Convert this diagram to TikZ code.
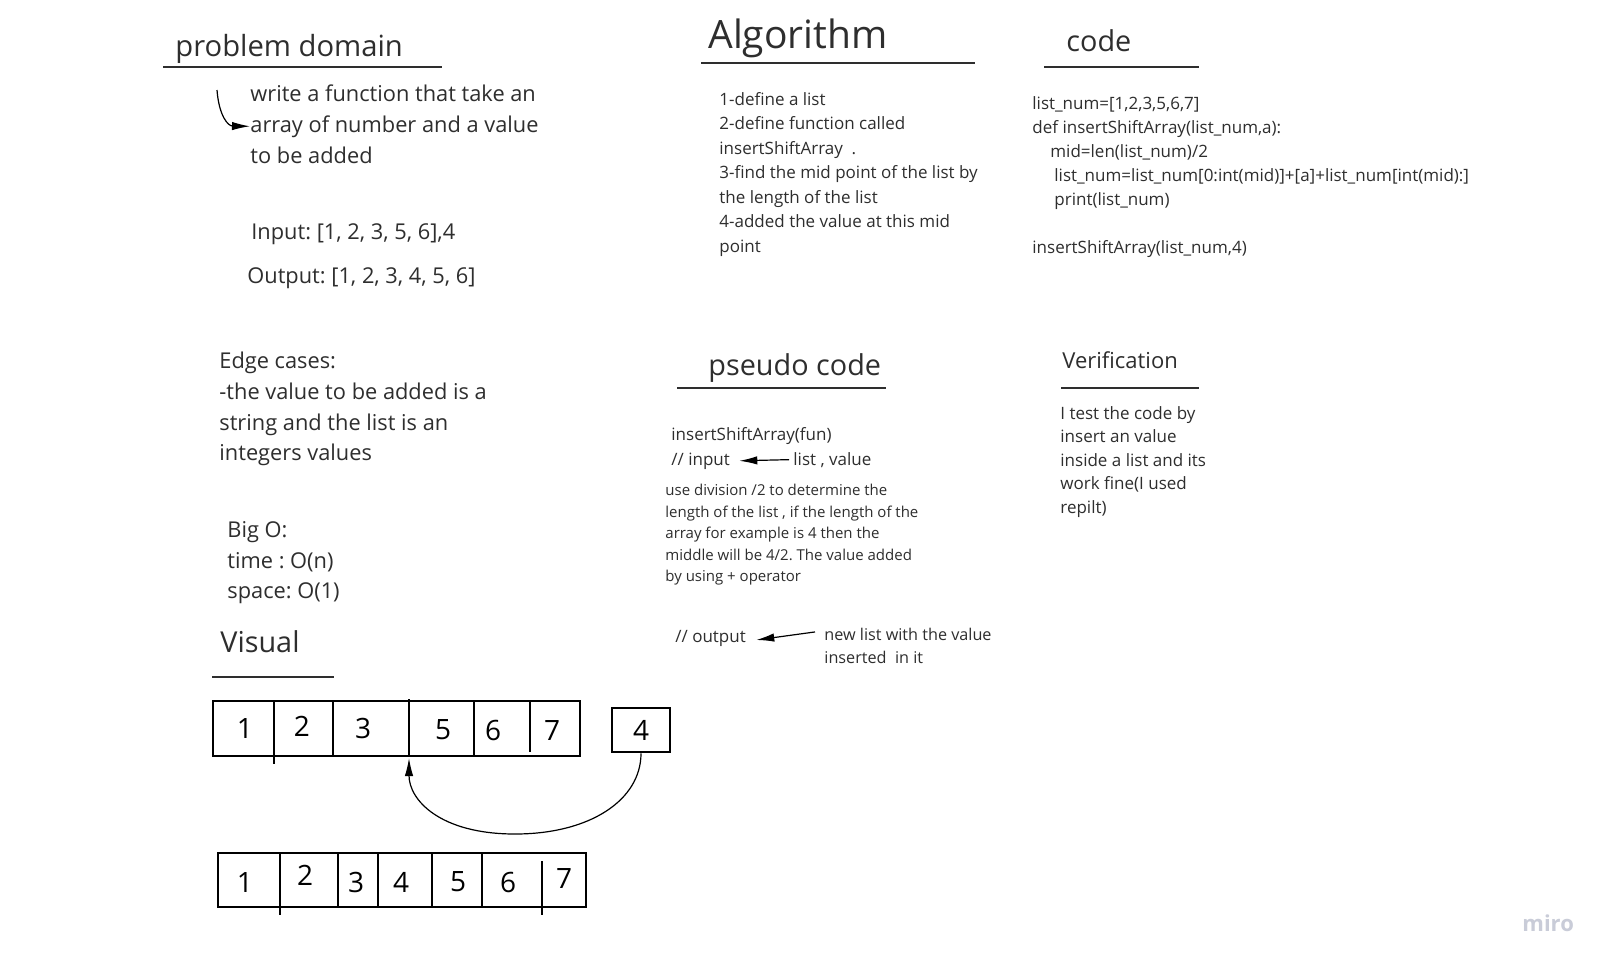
\documentclass[tikz,border=0pt]{standalone}
\usepackage{fontspec}
\setmainfont{Open Sans}
\usetikzlibrary{arrows.meta}
\definecolor{ink}{HTML}{2E2E2E}
\definecolor{mirocol}{HTML}{C9CCD8}
\frenchspacing
\tikzset{
  txt/.style={anchor=base west, inner sep=0pt, text=ink},
  body/.style={txt, font=\fontsize{10.9}{13}\selectfont},
  small/.style={txt, font=\fontsize{8.5}{10}\selectfont},
  tiny/.style={txt, font=\fontsize{7.5}{9}\selectfont},
  head/.style={txt, font=\fontsize{14.4}{16}\selectfont},
  rule/.style={line width=0.7pt, ink},
  cellbox/.style={line width=1.3pt, black},
  divider/.style={line width=0.6pt, black},
  digit/.style={anchor=center, inner sep=0pt, text=black, font=\fontsize{14}{16}\selectfont},
  arr/.style={line width=0.6pt, black, -{Latex[length=9pt,width=4.2pt]}},
}
\begin{document}
\begin{tikzpicture}[x=0.5pt,y=-0.5pt]
\useasboundingbox[fill=white] (0,0) rectangle (1610,970);

% ---------- problem domain ----------
\node[head, font=\fontsize{14.6}{16}\selectfont] (pdh) at (175,56) {problem domain};
\draw[rule] (163,67) -- (442,67);
\node[body] (pd1) at (250,101) {write a function that take an};
\node[body] (pd2) at (250,132) {array of number and a value};
\node[body] (pd3) at (250,163) {to be added};
\coordinate (pdc) at (217,90);
\draw[arr] (pdc) .. controls (219,116) and (228,126) .. (pd2.west);
\node[body] (inp) at (251,239) {Input: [1, 2, 3, 5, 6],4};
\node[body] (outp) at (247,283) {Output: [1, 2, 3, 4, 5, 6]};

\node[body] (e1) at (219,368) {Edge cases:};
\node[body] (e2) at (219,399) {-the value to be added is a};
\node[body] (e3) at (219,430) {string and the list is an};
\node[body] (e4) at (219,460) {integers values};

\node[body] (b1) at (227,537) {Big O:};
\node[body] (b2) at (227,568) {time : O(n)};
\node[body] (b3) at (227,598) {space: O(1)};

% ---------- Algorithm ----------
\node[txt, font=\fontsize{19.5}{22}\selectfont] (alh) at (708,48) {Algorithm};
\draw[rule] (701,63) -- (975,63);
\node[small] (a1) at (719,105) {1-define a list};
\node[small] (a2) at (719,129) {2-define function called};
\node[small] (a3) at (719,154) {insertShiftArray\ \ .};
\node[small] (a4) at (719,178) {3-find the mid point of the list by};
\node[small] (a5) at (719,203) {the length of the list};
\node[small] (a6) at (719,227) {4-added the value at this mid};
\node[small] (a7) at (719,252) {point};

% ---------- code ----------
\node[head] (cdh) at (1066,51) {code};
\draw[rule] (1044,67) -- (1199,67);
\node[small] (c1) at (1032,109) {list\_num=[1,2,3,5,6,7]};
\node[small] (c2) at (1032,133) {def insertShiftArray(list\_num,a):};
\node[small] (c3) at (1050,157) {mid=len(list\_num)/2};
\node[small] (c4) at (1054,181) {list\_num=list\_num[0:int(mid)]+[a]+list\_num[int(mid):]};
\node[small] (c5) at (1054,205) {print(list\_num)};
\node[small] (c7) at (1032,253) {insertShiftArray(list\_num,4)};

% ---------- pseudo code ----------
\node[head] (psh) at (708,375) {pseudo code};
\draw[rule] (677,388) -- (886,388);
\node[small] (p1) at (671,440) {insertShiftArray(fun)};
\node[small] (p2) at (671,465) {// input};
\node[small] (p3) at (793,465) {list , value};
\draw[arr] ([xshift=-2pt]p3.west) -- ([xshift=4.5pt]p2.east);
\node[tiny] (q1) at (665,495) {use division /2 to determine the};
\node[tiny] (q2) at (665,517) {length of the list , if the length of the};
\node[tiny] (q3) at (665,538) {array for example is 4 then the};
\node[tiny] (q4) at (665,560) {middle will be 4/2. The value added};
\node[tiny] (q5) at (665,581) {by using + operator};
\node[small] (o1) at (675,642) {// output};
\node[small, font=\fontsize{8.1}{10}\selectfont] (o2) at (824,640) {new list with the value};
\node[small, font=\fontsize{8.1}{10}\selectfont] (o3) at (824,663) {inserted\ \ in it};
\draw[arr] ([xshift=-4.5pt,yshift=1pt]o2.west) -- ([xshift=5pt,yshift=-1pt]o1.east);

% ---------- Verification ----------
\node[txt, font=\fontsize{11}{13}\selectfont] (vh) at (1062,368) {Verification};
\draw[rule] (1061,388) -- (1199,388);
\node[small] (v1) at (1060,419) {I test the code by};
\node[small] (v2) at (1060,442) {insert an value};
\node[small] (v3) at (1060,466) {inside a list and its};
\node[small] (v4) at (1060,489) {work fine(I used};
\node[small] (v5) at (1060,513) {repilt)};

% ---------- Visual ----------
\node[head] (vis) at (220,652) {Visual};
\draw[rule] (212,677) -- (334,677);

% top array
\draw[cellbox] (213,701) rectangle (580,756);
\draw[divider] (274,701) -- (274,764);
\draw[divider] (333,701) -- (333,756);
\draw[divider] (409,699) -- (409,756);
\draw[divider] (474,701) -- (474,756);
\draw[divider] (530,701) -- (530,752);
\node[digit] (t1) at (245,728) {1};
\node[digit] (t2) at (302,726) {2};
\node[digit] (t3) at (363,728) {3};
\node[digit] (t5) at (443,730) {5};
\node[digit] (t6) at (493,730) {6};
\node[digit] (t7) at (552,730) {7};

% inserted value
\node[draw, cellbox, minimum width=29pt, minimum height=22pt, inner sep=0pt,
      text=black, font=\fontsize{14}{16}\selectfont] (four) at (641,730) {4};
\coordinate (slot) at (409,758);
\draw[arr] (four.south) .. controls (641,800) and (590,834) .. (515,834)
  .. controls (440,834) and (409,800) .. (slot);

% bottom array
\draw[cellbox] (218,853) rectangle (586,907);
\draw[divider] (280,853) -- (280,915);
\draw[divider] (338,853) -- (338,907);
\draw[divider] (378,853) -- (378,907);
\draw[divider] (432,853) -- (432,907);
\draw[divider] (482,853) -- (482,907);
\draw[divider] (542,861) -- (542,915);
\node[digit] (u1) at (245,882) {1};
\node[digit] (u2) at (305,875) {2};
\node[digit] (u3) at (356,882) {3};
\node[digit] (u4) at (401,882) {4};
\node[digit] (u5) at (458,882) {5};
\node[digit] (u6) at (508,882) {6};
\node[digit] (u7) at (564,878) {7};

% watermark
\node[anchor=base west, inner sep=0pt, text=mirocol, font=\fontsize{11}{13}\selectfont\bfseries] (miro) at (1522,931) {miro};
\end{tikzpicture}
\end{document}
